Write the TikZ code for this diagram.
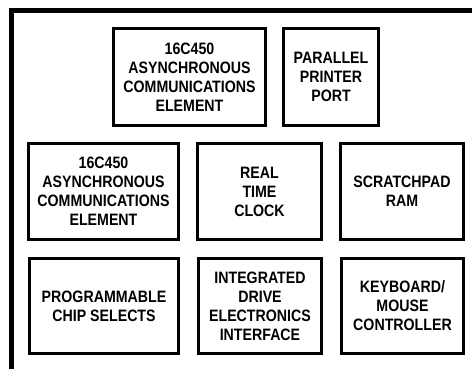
\documentclass[tikz,border=0pt]{standalone}
\usepackage{fontspec}
\setmainfont{Liberation Sans}[FakeStretch=0.86]
\begin{document}
\begin{tikzpicture}[x=1pt,y=1pt,
  blk/.style={draw=black, line width=3pt, rectangle, inner sep=0pt, align=center,
    font=\fontsize{16.5}{19}\selectfont\bfseries, text=black},
  frame/.style={draw=black, line width=5pt, line join=miter}]
\useasboundingbox (0,0) rectangle (475,368);
\clip (0,0) rectangle (475,368);
\coordinate (ftr) at (472,358);
\coordinate (fc) at (11,358);
\coordinate (fbl) at (11,-5);
\draw[frame] (ftr) -- (fc) -- (fbl);
\node[blk, minimum width=152pt, minimum height=97pt] (a) at (189.5,291) {16C450\\ASYNCHRONOUS\\COMMUNICATIONS\\ELEMENT};
\node[blk, minimum width=95pt, minimum height=97pt] (b) at (331,291) {PARALLEL\\PRINTER\\PORT};
\node[blk, minimum width=150pt, minimum height=96pt] (c) at (103.5,176.5) {16C450\\ASYNCHRONOUS\\COMMUNICATIONS\\ELEMENT};
\node[blk, minimum width=124pt, minimum height=96pt] (d) at (259.5,176.5) {REAL\\TIME\\CLOCK};
\node[blk, minimum width=123pt, minimum height=96pt] (e) at (402,176.5) {SCRATCHPAD\\RAM};
\node[blk, minimum width=149pt, minimum height=95pt] (f) at (104,62) {PROGRAMMABLE\\CHIP SELECTS};
\node[blk, minimum width=123pt, minimum height=95pt] (g) at (260,62) {INTEGRATED\\DRIVE\\ELECTRONICS\\INTERFACE};
\node[blk, minimum width=122pt, minimum height=95pt] (h) at (402.5,62) {KEYBOARD/\\MOUSE\\CONTROLLER};
\end{tikzpicture}
\end{document}
